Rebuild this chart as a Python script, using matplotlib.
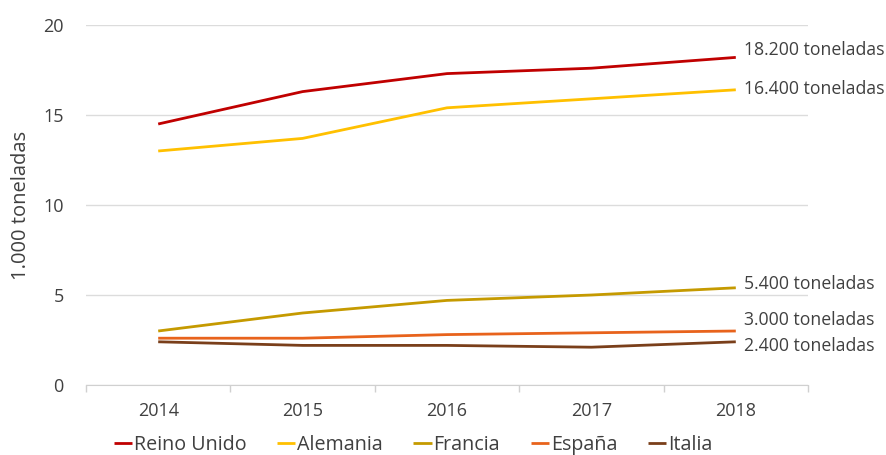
import matplotlib
matplotlib.use("Agg")
import matplotlib.pyplot as plt
import numpy as np

years = ["2014", "2015", "2016", "2017", "2018"]
series_names = ["Reino Unido", "Alemania", "Francia", "España", "Italia"]
reino_unido = [14.5, 16.3, 17.3, 17.6, 18.2]
alemania = [13.0, 13.7, 15.4, 15.9, 16.4]
francia = [3.0, 4.0, 4.7, 5.0, 5.4]
espana = [2.6, 2.6, 2.8, 2.9, 3.0]
italia = [2.4, 2.2, 2.2, 2.1, 2.4]
end_labels = ["18.200 toneladas", "16.400 toneladas", "5.400 toneladas",
              "3.000 toneladas", "2.400 toneladas"]
y_ticks = [0, 5, 10, 15, 20]
y_label = "1.000 toneladas"

colors = ["#C00000", "#FFC000", "#C59A00", "#E8631C", "#7A3F1A"]
label_offsets_px = [7, 1, 4, 11, -4]

plt.rcParams['font.family'] = ['Open Sans', 'DejaVu Sans']
txt = "#404040"

fig = plt.figure(figsize=(8.87, 4.55), dpi=100)
ax = fig.add_axes([86/887, 1-385/455, (808-86)/887, 360/455])

x = np.arange(len(years))
data = [reino_unido, alemania, francia, espana, italia]
for name, vals, c, lab, off in zip(series_names, data, colors, end_labels, label_offsets_px):
    ax.plot(x, vals, color=c, lw=2, label=name, solid_capstyle='butt')
    ax.annotate(lab, xy=(x[-1], vals[-1]), xytext=(8*0.72, off*0.72),
                textcoords='offset points', ha='left', va='center',
                fontsize=12.7, color=txt, annotation_clip=False)

ax.set_xlim(-0.5, len(years) - 0.5)
ax.set_ylim(0, 20)
ax.set_yticks(y_ticks)
ax.set_yticklabels([str(t) for t in y_ticks])
ax.set_xticks(x)
ax.set_xticklabels(years)
ax.set_xticks(np.arange(-0.5, len(years), 1), minor=True)
ax.tick_params(axis='x', which='major', length=0, pad=12, labelsize=13, labelcolor=txt)
ax.tick_params(axis='x', which='minor', length=5, color="#d0d0d0", width=1)
ax.tick_params(axis='y', length=0, pad=16, labelsize=13, labelcolor=txt)
ax.grid(axis='y', color="#dcdcdc", lw=1)
ax.set_axisbelow(True)
for s in ['top', 'right', 'left']:
    ax.spines[s].set_visible(False)
ax.spines['bottom'].set_color("#d0d0d0")
ax.set_ylabel(y_label, fontsize=14.5, color=txt, labelpad=9)

leg = fig.legend(loc='center', bbox_to_anchor=(413/887, 1-445/455), ncol=5, frameon=False,
                 fontsize=14.2, handlelength=0.92, handletextpad=0.1, columnspacing=1.55,
                 labelcolor=txt, borderpad=0)
for line in leg.get_lines():
    line.set_linewidth(2)

fig.savefig("out.png", dpi=100)
